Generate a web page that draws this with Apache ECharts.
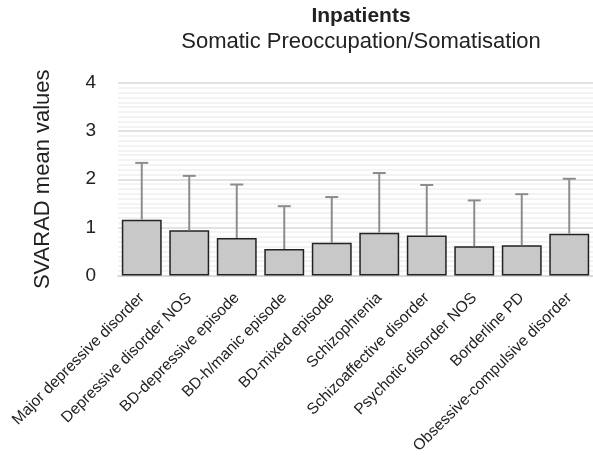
<!DOCTYPE html>
<html>
<head>
<meta charset="utf-8">
<script src="https://cdn.jsdelivr.net/npm/echarts@6/dist/echarts.min.js"></script>
<style>html,body{margin:0;padding:0;background:#fff;}#c{width:593px;height:460px;}</style>
</head>
<body>
<div id="c"></div>
<script>
var categories = ['Major depressive disorder','Depressive disorder NOS','BD-depressive episode','BD-h/manic episode','BD-mixed episode','Schizophrenia','Schizoaffective disorder','Psychotic disorder NOS','Borderline PD','Obsessive-compulsive disorder'];
var means = [1.16, 0.94, 0.78, 0.55, 0.68, 0.89, 0.83, 0.61, 0.63, 0.87];
var upper = [2.34, 2.07, 1.89, 1.44, 1.63, 2.13, 1.88, 1.56, 1.69, 2.01];
var yTicks = [0, 1, 2, 3, 4];

var errData = means.map(function (m, i) { return [i, m, upper[i]]; });
var font = 'Liberation Sans, Arial, sans-serif';
var chart = echarts.init(document.getElementById('c'));
chart.setOption({
  animation: false,
  title: [
    {text: 'Inpatients', left: 356, textAlign: 'center', top: 1,
     textStyle: {fontFamily: font, fontWeight: 'bold', fontSize: 21, color: '#222'}},
    {text: 'Somatic Preoccupation/Somatisation', left: 356, textAlign: 'center', top: 26,
     textStyle: {fontFamily: font, fontWeight: 'normal', fontSize: 22, color: '#222'}}
  ],
  grid: {left: 118, top: 83, width: 478, height: 192.5, containLabel: false},
  xAxis: {
    type: 'category', data: categories,
    axisLine: {show: true, lineStyle: {color: '#d9d9d9', width: 2}},
    axisTick: {show: false},
    axisLabel: {rotate: 45, interval: 0, margin: 20, fontFamily: font, fontSize: 15.6, color: '#222'}
  },
  yAxis: {
    type: 'value', min: yTicks[0], max: yTicks[yTicks.length - 1], interval: 1,
    name: 'SVARAD mean values', nameLocation: 'middle', nameGap: 64, nameRotate: 90,
    nameTextStyle: {fontFamily: font, fontSize: 22, color: '#222'},
    axisLine: {show: false}, axisTick: {show: false},
    axisLabel: {margin: 22, fontFamily: font, fontSize: 19, color: '#222'},
    splitLine: {show: true, lineStyle: {color: '#d9d9d9', width: 1.5}},
    minorTick: {show: false, splitNumber: 10},
    minorSplitLine: {show: true, lineStyle: {color: '#efefef', width: 1.5}}
  },
  series: [
    {type: 'bar', data: means, barCategoryGap: '16%',
     itemStyle: {color: '#c8c8c9', borderColor: '#222', borderWidth: 1.5}, z: 2},
    {type: 'custom', data: errData, z: 3,
     renderItem: function (params, api) {
       var i = api.value(0);
       var p0 = api.coord([i, api.value(1)]);
       var p1 = api.coord([i, api.value(2)]);
       var hw = 6.5;
       var st = {stroke: '#8c8c8c', lineWidth: 2};
       return {type: 'group', children: [
         {type: 'line', shape: {x1: p0[0], y1: p0[1], x2: p1[0], y2: p1[1]}, style: st},
         {type: 'line', shape: {x1: p1[0] - hw, y1: p1[1], x2: p1[0] + hw, y2: p1[1]}, style: st}
       ]};
     }}
  ]
});
</script>
</body>
</html>
